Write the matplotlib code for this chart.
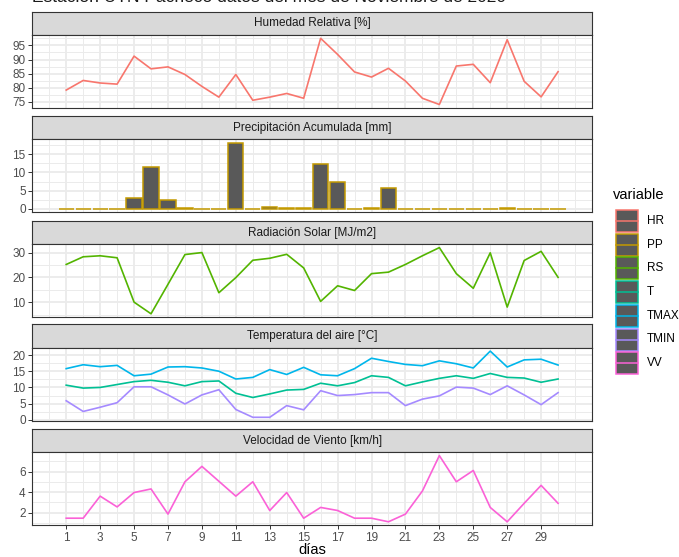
import matplotlib.pyplot as plt
from matplotlib.patches import Rectangle
from matplotlib.lines import Line2D
import numpy as np

plt.rcParams['font.family'] = ['Liberation Sans', 'DejaVu Sans']

# datos diarios, noviembre 2020
dias = list(range(1, 31))
hr = [79.2, 82.6, 81.7, 81.3, 91.2, 86.7, 87.4, 84.7, 80.5, 76.7,
      84.7, 75.6, 76.7, 78.0, 76.3, 97.5, 91.8, 85.6, 83.8, 86.9,
      82.4, 76.3, 74.1, 87.7, 88.3, 81.8, 97.0, 82.3, 76.8, 85.7]
pp = [0, 0, 0, 0, 3.0, 11.6, 2.3, 0.2, 0, 0,
      18.2, 0, 0.4, 0.2, 0.2, 12.2, 7.3, 0, 0.3, 5.7,
      0, 0, 0, 0, 0, 0, 0.3, 0, 0, 0]
rs = [25.2, 28.3, 28.7, 27.9, 10.0, 5.3, 17.2, 29.2, 30.0, 13.8,
      19.9, 26.9, 27.7, 29.3, 23.8, 10.3, 16.6, 14.7, 21.5, 22.1,
      25.2, 28.7, 32.0, 21.5, 15.6, 29.9, 8.0, 26.8, 30.5, 20.0]
t = [10.7, 9.8, 10.0, 10.9, 11.8, 12.2, 11.6, 10.5, 11.8, 12.0,
     8.2, 6.9, 8.0, 9.2, 9.4, 11.3, 10.5, 11.5, 13.6, 13.1,
     10.5, 11.7, 12.8, 13.6, 12.8, 14.3, 13.1, 12.9, 11.6, 12.6]
tmax = [15.8, 17.0, 16.4, 16.8, 13.6, 14.1, 16.3, 16.4, 16.0, 15.0,
        12.6, 13.1, 15.5, 14.0, 16.2, 13.9, 13.6, 15.8, 19.0, 18.0,
        17.1, 16.7, 18.2, 17.3, 16.0, 21.2, 16.3, 18.5, 18.7, 16.9]
tmin = [5.9, 2.6, 3.9, 5.3, 10.2, 10.2, 7.7, 4.9, 7.7, 9.3,
        3.2, 0.8, 0.8, 4.4, 3.1, 9.0, 7.5, 7.8, 8.4, 8.4,
        4.4, 6.4, 7.4, 10.1, 9.8, 7.8, 10.5, 7.7, 4.7, 8.4]
vv = [1.45, 1.45, 3.6, 2.55, 3.95, 4.3, 1.85, 5.0, 6.5, 5.05,
      3.6, 5.0, 2.2, 3.95, 1.45, 2.5, 2.2, 1.45, 1.45, 1.1,
      1.85, 4.1, 7.55, 5.0, 6.1, 2.5, 1.1, 2.9, 4.65, 2.9]

variables = ['HR', 'PP', 'RS', 'T', 'TMAX', 'TMIN', 'VV']
colores = ['#F8766D', '#C49A00', '#53B400', '#00C094', '#00B6EB', '#A58AFF', '#FB61D7']
serie = dict(zip(variables, [hr, pp, rs, t, tmax, tmin, vv]))
color = dict(zip(variables, colores))

paneles = [
    ('Humedad Relativa [%]', ['HR'], [75, 80, 85, 90, 95]),
    ('Precipitación Acumulada [mm]', ['PP'], [0, 5, 10, 15]),
    ('Radiación Solar [MJ/m2]', ['RS'], [10, 20, 30]),
    ('Temperatura del aire [°C]', ['T', 'TMAX', 'TMIN'], [0, 5, 10, 15, 20]),
    ('Velocidad de Viento [km/h]', ['VV'], [2, 4, 6]),
]
xbreaks = list(range(1, 30, 2))
titulo = 'Estación UTN Pacheco datos del mes de Noviembre de 2020'

W, H = 679, 557
fig = plt.figure(figsize=(W / 100, H / 100), dpi=100)

LEFT, WIDTH = 32.3, 559.7
STRIP_H, PANEL_H = 23.3, 72.8
strip_tops = [11.7, 116.0, 221.0, 324.5, 429.0]
borde = '#333333'


def caja(top, h):
    return [LEFT / W, 1 - (top + h) / H, WIDTH / W, h / H]


def expandir(vals):
    lo, hi = min(vals), max(vals)
    pad = 0.05 * (hi - lo)
    return lo - pad, hi + pad


for i, (nombre, vars_, yticks) in enumerate(paneles):
    top = strip_tops[i]

    # barra de título de la faceta
    sax = fig.add_axes(caja(top, STRIP_H))
    sax.set_facecolor('#D9D9D9')
    sax.set_xticks([])
    sax.set_yticks([])
    for s in sax.spines.values():
        s.set_color(borde)
        s.set_linewidth(0.8)
    sax.text(0.5, 0.5, nombre, ha='center', va='center', fontsize=8.5,
             color='#1A1A1A', transform=sax.transAxes)

    ax = fig.add_axes(caja(top + STRIP_H, PANEL_H))
    valores = []
    for v in vars_:
        y = serie[v]
        valores += y
        if v == 'PP':
            ax.bar(dias, y, width=0.9, color='#595959', edgecolor=color[v],
                   linewidth=1.1, zorder=3)
            valores += [0]
        else:
            ax.plot(dias, y, color=color[v], lw=1.2, zorder=3)

    ax.set_xlim(-1, 32)
    ax.set_ylim(*expandir(valores))
    ax.set_xticks(xbreaks)
    ax.set_xticks([d for d in range(-1, 33) if d not in xbreaks], minor=True)
    ax.set_yticks(yticks)
    paso = yticks[1] - yticks[0]
    ymin, ymax = ax.get_ylim()
    menores = np.arange(yticks[0] - paso / 2, ymax, paso)
    ax.set_yticks([m for m in menores if ymin < m < ymax], minor=True)
    ax.grid(which='major', color='#EBEBEB', lw=1.3, zorder=0)
    ax.grid(which='minor', color='#EBEBEB', lw=0.7, zorder=0)
    ax.set_axisbelow(True)
    for s in ax.spines.values():
        s.set_color(borde)
        s.set_linewidth(0.8)
    ax.tick_params(which='major', length=2.7, width=0.7, color=borde,
                   labelsize=8.5, labelcolor='#4D4D4D', pad=2)
    ax.tick_params(which='minor', length=0)
    if i < len(paneles) - 1:
        ax.tick_params(axis='x', length=0, labelbottom=False)

fig.text(312 / W, 1 - 543 / H, 'días', ha='center', va='top', fontsize=10.5,
         color='black')
# el título queda recortado en el borde superior
fig.text(LEFT / W, 1 - 2.5 / H, titulo, ha='left', va='baseline',
         fontsize=12.5, color='#1A1A1A')

# leyenda
ov = fig.add_axes([0, 0, 1, 1])
ov.set_xlim(0, W)
ov.set_ylim(H, 0)
ov.axis('off')
ov.text(613, 195, 'variable', ha='left', va='center', fontsize=10.5)
for k, v in enumerate(variables):
    y0 = 210 + k * 23.7
    ov.add_patch(Rectangle((616, y0), 22, 22, facecolor='#595959',
                           edgecolor=color[v], linewidth=1.1))
    ov.add_line(Line2D([616, 638], [y0 + 11, y0 + 11], color=color[v], lw=1.1))
    ov.text(647, y0 + 11, v, ha='left', va='center', fontsize=8.5)

fig.savefig('out.png', dpi=100)
